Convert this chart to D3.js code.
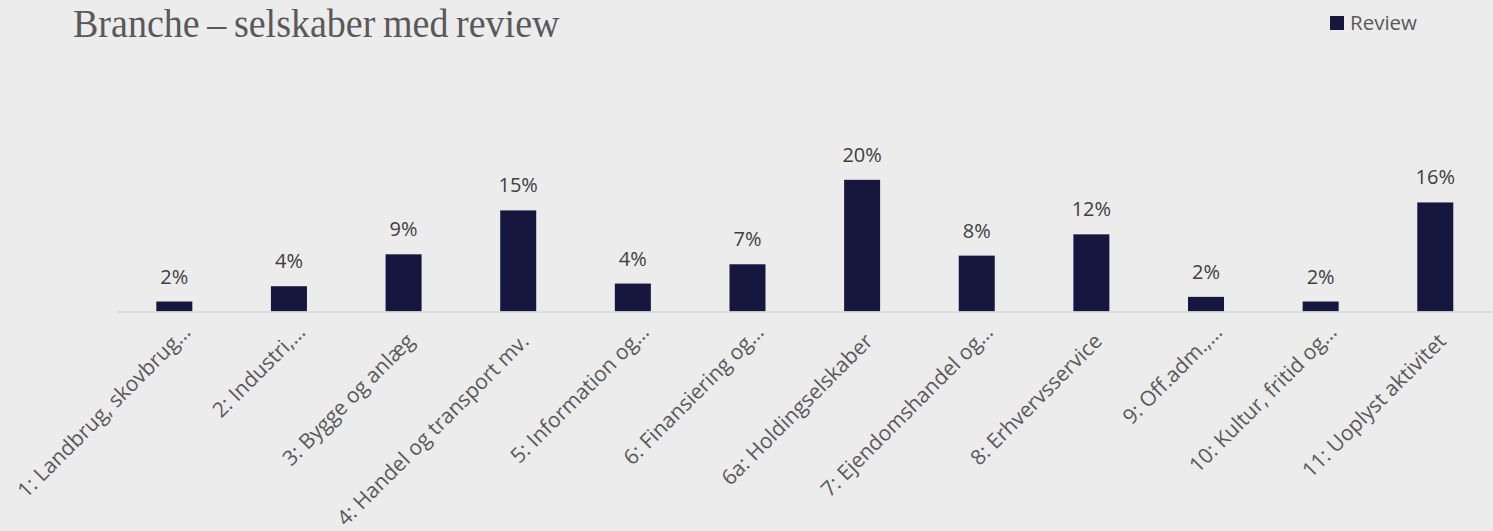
<!DOCTYPE html>
<html>
<head>
<meta charset="utf-8">
<script src="https://cdn.jsdelivr.net/npm/d3@7"></script>
<style>
  html, body { margin: 0; padding: 0; background: #ececec; }
  svg { display: block; }
</style>
</head>
<body>
<svg id="chart" width="1493" height="531"></svg>
<script>
const categories = [
  "1: Landbrug, skovbrug…",
  "2: Industri,…",
  "3: Bygge og anlæg",
  "4: Handel og transport mv.",
  "5: Information og…",
  "6: Finansiering og…",
  "6a: Holdingselskaber",
  "7: Ejendomshandel og…",
  "8: Erhvervsservice",
  "9: Off.adm.,…",
  "10: Kultur, fritid og…",
  "11: Uoplyst aktivitet"
];
const reviewValues = [1.5, 3.8, 8.6, 15.2, 4.2, 7.1, 19.8, 8.4, 11.6, 2.2, 1.5, 16.4];
const seriesName = "Review";
const titleText = "Branche – selskaber med review";

const svg = d3.select("#chart");
const W = 1493, H = 531;
svg.append("rect").attr("width", W).attr("height", H).attr("fill", "#ececec");

const baseY = 311.5;
const x = d3.scaleBand()
  .domain(categories)
  .range([117, 1492.6])
  .paddingInner(0.686)
  .paddingOuter(0.343);
const y = d3.scaleLinear().domain([0, 20]).range([baseY, baseY - 20 * 6.65]);

// title
svg.append("text")
  .attr("transform", "translate(73,37) scale(0.951,1)")
  .attr("font-family", "Liberation Serif, serif")
  .attr("font-size", 40)
  .attr("word-spacing", -2)
  .attr("fill", "#595959")
  .text(titleText);

// legend
svg.append("rect").attr("x", 1330).attr("y", 16).attr("width", 14).attr("height", 14).attr("fill", "#16163e");
svg.append("text").attr("x", 1350).attr("y", 29.5)
  .attr("font-family", "Open Sans, sans-serif").attr("font-size", 20.5).attr("fill", "#595959")
  .text(seriesName);

// bars
svg.append("g").selectAll("rect").data(reviewValues).join("rect")
  .attr("x", (d, i) => x(categories[i]))
  .attr("y", d => y(d))
  .attr("width", x.bandwidth())
  .attr("height", d => y(0) - y(d))
  .attr("fill", "#16163e");

// value labels
svg.append("g").selectAll("text").data(reviewValues).join("text")
  .attr("x", (d, i) => x(categories[i]) + x.bandwidth() / 2)
  .attr("y", d => y(d) - 18)
  .attr("text-anchor", "middle")
  .attr("font-family", "Open Sans, sans-serif")
  .attr("font-size", 20)
  .attr("fill", "#404040")
  .text(d => Math.round(d) + "%");

// x axis
const xAxis = d3.axisBottom(x).tickSize(0).tickPadding(0);
const gx = svg.append("g").attr("transform", `translate(0,${baseY})`).call(xAxis);
gx.select(".domain").attr("stroke", "#d9d9d9").attr("stroke-width", 1.5)
  .attr("d", `M117,0.5H1493`);
gx.selectAll(".tick text")
  .attr("font-family", "Open Sans, sans-serif")
  .attr("font-size", 21)
  .attr("fill", "#595959")
  .attr("text-anchor", "end")
  .attr("dy", 0)
  .attr("y", 0)
  .attr("transform", d => d.endsWith("…") ? "translate(17.5,22) rotate(-45)" : "translate(12,31) rotate(-45)");
</script>
</body>
</html>
